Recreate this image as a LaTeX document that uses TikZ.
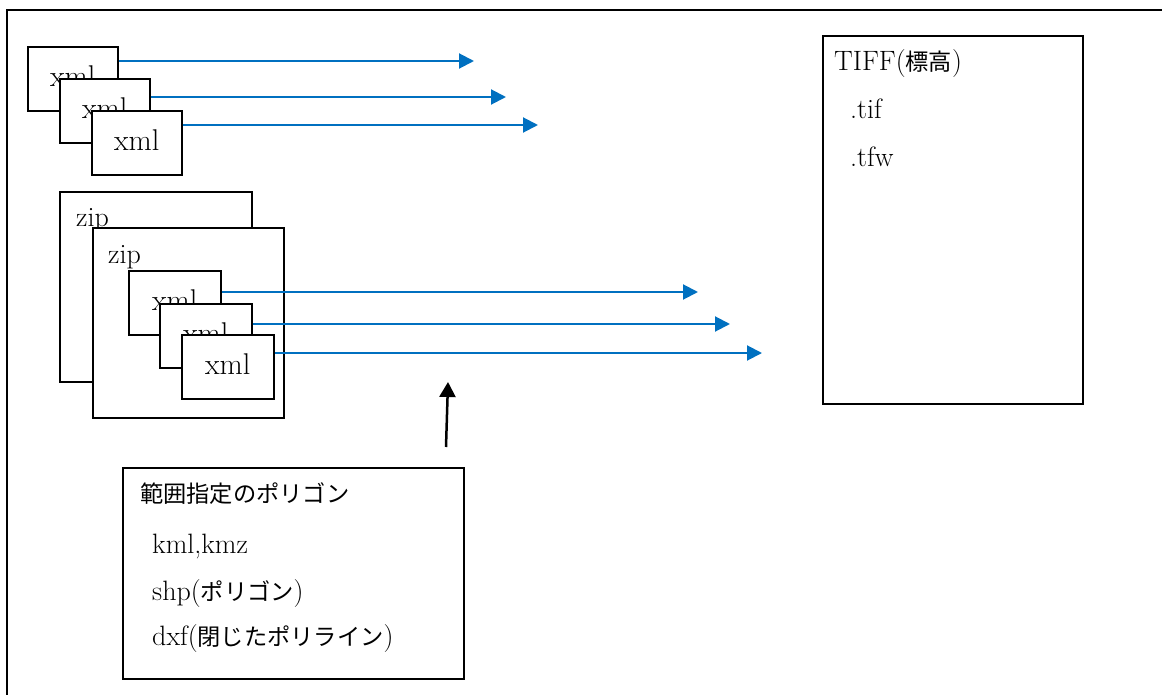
\documentclass[tikz,border=0pt]{standalone}
\usepackage{fontspec}
\setmainfont{Latin Modern Roman}
\newfontfamily\jp{Noto Sans CJK JP}[Scale=0.83]
\usetikzlibrary{arrows.meta}
\definecolor{arrblue}{HTML}{0070C0}
\tikzset{
  every node/.style={font=\fontsize{28}{33}\selectfont},
  box/.style={draw, line width=1.6pt, fill=white, inner sep=0pt, anchor=north west},
  xmlbox/.style={box, minimum height=64pt, text depth=6pt, font=\fontsize{30}{35}\selectfont},
  lbl/.style={anchor=base west, inner sep=0pt},
  bluearrow/.style={arrblue, line width=2pt, -{Triangle[length=15pt,width=15pt]}},
  blackarrow/.style={black, line width=2.5pt, -{Triangle[length=15pt,width=16pt]}},
  frameline/.style={line width=1.6pt}
}
\begin{document}
\begin{tikzpicture}[x=1pt,y=-1pt]
\useasboundingbox (0,0) rectangle (1162,695);
% outer frame (extends beyond the page)
\draw[frameline] (7,695) -- (7,10) -- (1162,10);

% top xml stack
\node[xmlbox, minimum width=90pt] (x1) at (27,46) {xml\hspace{6pt}};
\node[xmlbox, minimum width=90pt] (x2) at (59,78) {xml\hspace{6pt}};
\node[xmlbox, minimum width=90pt] (x3) at (91,110) {xml\hspace{6pt}};
\coordinate (t1) at (474,61);
\coordinate (t2) at (506,97);
\coordinate (t3) at (538,125);
\draw[bluearrow] ([yshift=-15pt]x1.north east) -- (t1);
\draw[bluearrow] ([yshift=-19pt]x2.north east) -- (t2);
\draw[bluearrow] ([yshift=-15pt]x3.north east) -- (t3);

% zip stack
\node[box, minimum width=192pt, minimum height=190pt] (z1) at (59,191) {};
\node[lbl] (z1l) at (76,227) {zip};
\node[box, minimum width=191pt, minimum height=190pt] (z2) at (92,227) {};
\node[lbl] (z2l) at (108,263) {zip};
\node[xmlbox, minimum width=92pt] (ia) at (128,270) {xml\hspace{6pt}};
\node[xmlbox, minimum width=92pt] (ib) at (159,303) {xml\hspace{6pt}};
\node[xmlbox, minimum width=92pt] (ic) at (181,334) {xml\hspace{6pt}};
\coordinate (u1) at (698,292);
\coordinate (u2) at (730,324);
\coordinate (u3) at (762,353);
\draw[bluearrow] ([yshift=-22pt]ia.north east) -- (u1);
\draw[bluearrow] ([yshift=-21pt]ib.north east) -- (u2);
\draw[bluearrow] ([yshift=-19pt]ic.north east) -- (u3);

% TIFF box
\node[box, minimum width=260pt, minimum height=368pt] (tiff) at (822,35) {};
\node[lbl] (tiffl) at (834,71) {TIFF({\jp 標高})};
\node[lbl] (tif) at (850,119) {.tif};
\node[lbl] (tfw) at (850,167) {.tfw};

% polygon box
\node[box, minimum width=341pt, minimum height=211pt] (poly) at (122,467) {};
\node[lbl] (pl0) at (140,502) {\jp 範囲指定のポリゴン};
\node[lbl] (pl1) at (152,553) {kml,kmz};
\node[lbl] (pl2) at (152,600) {shp({\jp ポリゴン})};
\node[lbl] (pl3) at (152,645) {dxf({\jp 閉じたポリライン})};

% black arrow
\coordinate (ba) at (446,447);
\coordinate (bb) at (448,382);
\draw[blackarrow] (ba) -- (bb);
\end{tikzpicture}
\end{document}
